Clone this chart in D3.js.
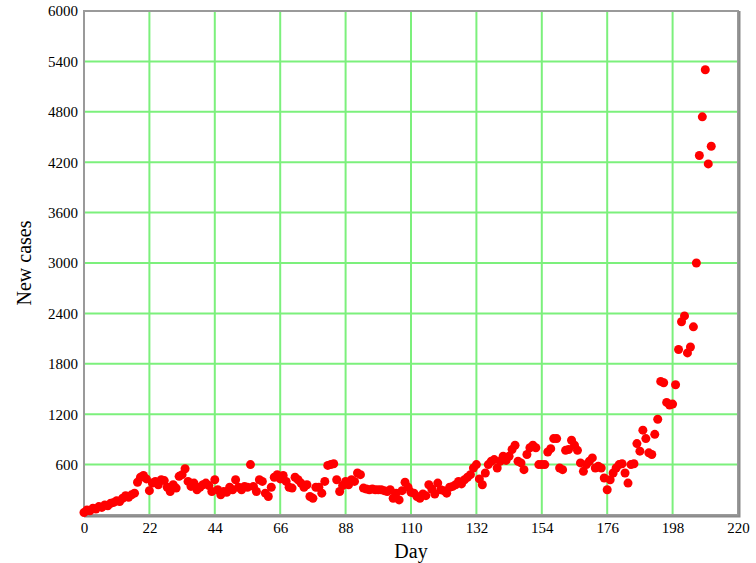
<!DOCTYPE html>
<html>
<head>
<meta charset="utf-8">
<script src="https://cdn.jsdelivr.net/npm/d3@7"></script>
<style>
  body { margin: 0; background: #fff; }
  svg { display: block; }
</style>
</head>
<body>
<div id="d3-container"></div>
<script>
// new cases per day (day 0 .. 211)
const newCases = [
    30, 60, 50, 80, 70, 100, 90, 120, 110, 140,
    150, 170, 160, 200, 230, 210, 240, 260, 390, 450,
    470, 430, 290, 380, 400, 360, 420, 410, 330, 280,
    360, 320, 460, 480, 550, 400, 340, 380, 300, 330,
    360, 380, 350, 280, 420, 300, 240, 280, 270, 330,
    300, 420, 330, 300, 340, 330, 600, 340, 280, 420,
    400, 260, 220, 330, 450, 480, 430, 470, 400, 330,
    320, 450, 420, 380, 330, 360, 220, 200, 330, 330,
    260, 400, 590, 600, 610, 420, 280, 350, 400, 360,
    420, 400, 500, 480, 320, 310, 300, 310, 300, 300,
    300, 290, 280, 300, 200, 260, 180, 290, 390, 330,
    270, 260, 220, 200, 250, 230, 360, 310, 250, 380,
    300, 290, 260, 330, 340, 360, 400, 370, 420, 450,
    480, 560, 600, 430, 360, 500, 600, 640, 660, 560,
    640, 700, 650, 700, 780, 830, 640, 620, 540, 720,
    800, 830, 800, 600, 600, 600, 750, 790, 910, 910,
    560, 540, 770, 780, 890, 830, 770, 620, 520, 600,
    640, 680, 560, 580, 560, 440, 300, 420, 500, 560,
    600, 610, 500, 380, 600, 610, 850, 760, 1010, 910,
    740, 720, 960, 1140, 1590, 1575, 1340, 1310, 1320, 1550,
    1970, 2300, 2370, 1930, 2000, 2240, 3000, 4280, 4740, 5300,
    4180, 4390
];
const days = newCases.map((v, i) => i);

const xTicks = [0, 22, 44, 66, 88, 110, 132, 154, 176, 198, 220];
const yTicks = [600, 1200, 1800, 2400, 3000, 3600, 4200, 4800, 5400, 6000];

const width = 756;
let dimensions = {
    width: width,
    height: 563,
    margin: {
        top: 11,
        right: 18,
        bottom: 48,
        left: 84,
    },
};
dimensions.boundedWidth = dimensions.width - dimensions.margin.left - dimensions.margin.right;
dimensions.boundedHeight = dimensions.height - dimensions.margin.top - dimensions.margin.bottom;

const svg = d3.select("#d3-container")
    .append("svg")
    .attr("width", dimensions.width)
    .attr("height", dimensions.height)
    .style("font-family", "'Liberation Serif', 'DejaVu Serif', serif");

const bounds = svg.append("g")
    .attr("transform", "translate(" + dimensions.margin.left + "," + dimensions.margin.top + ")");

const x = d3.scaleLinear()
    .domain([0, 220])
    .range([0, dimensions.boundedWidth]);

const y = d3.scaleLinear()
    .domain([0, 6000])
    .range([dimensions.boundedHeight, 0]);

// grid lines
bounds.append("g")
    .selectAll("line")
    .data(xTicks.slice(1, -1))
    .join("line")
        .attr("x1", d => x(d))
        .attr("x2", d => x(d))
        .attr("y1", 0)
        .attr("y2", dimensions.boundedHeight)
        .attr("stroke", "#7cf07c")
        .attr("stroke-width", 2);

bounds.append("g")
    .selectAll("line")
    .data(yTicks.slice(0, -1))
    .join("line")
        .attr("x1", 0)
        .attr("x2", dimensions.boundedWidth)
        .attr("y1", d => y(d))
        .attr("y2", d => y(d))
        .attr("stroke", "#7cf07c")
        .attr("stroke-width", 2);

// frame
bounds.append("rect")
    .attr("x", 0)
    .attr("y", 0)
    .attr("width", dimensions.boundedWidth)
    .attr("height", dimensions.boundedHeight)
    .attr("fill", "none")
    .attr("stroke", "#9a9a9a")
    .attr("stroke-width", 2);
bounds.append("path")
    .attr("d", "M" + (dimensions.boundedWidth + 1.5) + ",0V" + (dimensions.boundedHeight + 1.5) + "H0")
    .attr("fill", "none")
    .attr("stroke", "#8a8a8a")
    .attr("stroke-width", 2);

// axes (labels only)
const xAxis = bounds.append("g")
    .attr("transform", "translate(0," + dimensions.boundedHeight + ")")
    .call(d3.axisBottom(x).tickValues(xTicks).tickSize(0).tickPadding(7).tickFormat(d3.format("d")));
const yAxis = bounds.append("g")
    .call(d3.axisLeft(y).tickValues(yTicks).tickSize(0).tickPadding(6).tickFormat(d3.format("d")));
[xAxis, yAxis].forEach(a => {
    a.select(".domain").remove();
    a.selectAll("text")
        .attr("fill", "#000")
        .style("font-family", "'Liberation Serif', serif")
        .style("font-size", "15px");
});

// points
bounds.append("g")
    .selectAll("circle")
    .data(newCases)
    .join("circle")
        .attr("cx", (d, i) => x(days[i]))
        .attr("cy", d => y(d))
        .attr("r", 4.5)
        .attr("fill", "#ff0000");

// axis titles
svg.append("text")
    .attr("x", dimensions.margin.left + dimensions.boundedWidth / 2)
    .attr("y", 558)
    .attr("text-anchor", "middle")
    .style("font-size", "20px")
    .text("Day");

svg.append("text")
    .attr("transform", "translate(31," + (dimensions.margin.top + dimensions.boundedHeight / 2) + ") rotate(-90)")
    .attr("text-anchor", "middle")
    .style("font-size", "20px")
    .text("New cases");
</script>
</body>
</html>
